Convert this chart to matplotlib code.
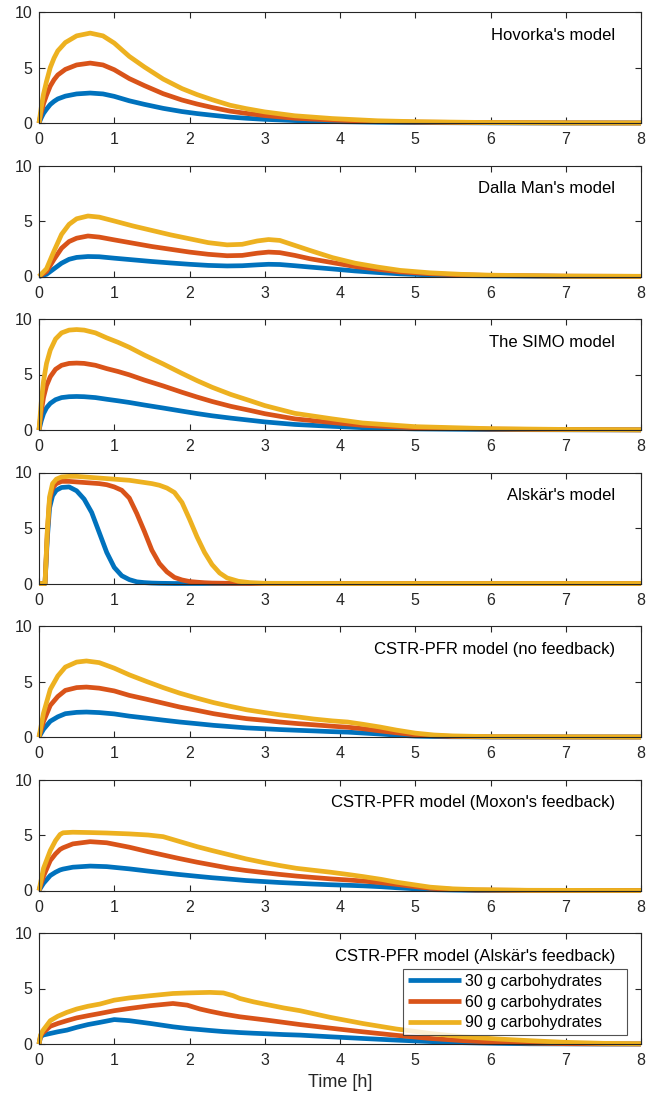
import matplotlib
matplotlib.use("Agg")
import matplotlib.pyplot as plt

plt.rcParams["font.family"] = ["Liberation Sans", "DejaVu Sans"]
plt.rcParams["font.size"] = 11.5

# ---- data ----
labels = ["30 g carbohydrates", "60 g carbohydrates", "90 g carbohydrates"]
colors = ["#0072BD", "#D95319", "#EDB120"]

hov_t = [0, 0.03, 0.06, 0.1, 0.15, 0.2, 0.25, 0.35, 0.5, 0.68, 0.85, 1.0, 1.2, 1.4, 1.65,
         1.9, 2.1, 2.3, 2.54, 2.75, 3.0, 3.4, 3.9, 4.5, 5.0, 6.0, 7.0, 8.0]
hov_30 = [0, 0.47, 0.87, 1.25, 1.67, 1.95, 2.17, 2.42, 2.62, 2.7, 2.62, 2.4, 2.0, 1.68, 1.32,
          1.03, 0.85, 0.7, 0.53, 0.43, 0.33, 0.22, 0.13, 0.07, 0.04, 0.01, 0, 0]
hov_60 = [0, 0.93, 1.73, 2.5, 3.33, 3.9, 4.33, 4.83, 5.23, 5.4, 5.23, 4.8, 4.0, 3.37, 2.64,
          2.07, 1.71, 1.4, 1.07, 0.87, 0.67, 0.43, 0.27, 0.13, 0.08, 0.03, 0.01, 0]
hov_90 = [0, 1.4, 2.6, 3.75, 5.0, 5.85, 6.5, 7.25, 7.85, 8.1, 7.85, 7.2, 6.0, 5.05, 3.96,
          3.1, 2.56, 2.1, 1.6, 1.3, 1.0, 0.65, 0.4, 0.2, 0.12, 0.04, 0.01, 0]

dm_t = [0, 0.1, 0.2, 0.3, 0.4, 0.5, 0.65, 0.8, 1.0, 1.25, 1.5, 1.75, 2.0, 2.25, 2.5, 2.7,
        2.9, 3.05, 3.2, 3.4, 3.6, 3.9, 4.2, 4.5, 4.8, 5.2, 5.6, 6.0, 7.0, 8.0]
dm_30 = [0, 0.2, 0.7, 1.2, 1.55, 1.72, 1.8, 1.78, 1.65, 1.5, 1.35, 1.22, 1.1, 1.0, 0.95, 0.97,
         1.05, 1.1, 1.08, 0.97, 0.85, 0.68, 0.5, 0.36, 0.24, 0.14, 0.08, 0.05, 0.01, 0]
dm_60 = [0, 0.45, 1.55, 2.55, 3.15, 3.45, 3.65, 3.55, 3.3, 3.0, 2.7, 2.45, 2.2, 2.0, 1.87, 1.9,
         2.1, 2.2, 2.15, 1.9, 1.6, 1.25, 0.9, 0.65, 0.42, 0.25, 0.15, 0.09, 0.03, 0.01]
dm_90 = [0, 0.7, 2.3, 3.8, 4.7, 5.2, 5.45, 5.35, 5.0, 4.55, 4.15, 3.75, 3.4, 3.05, 2.85, 2.9,
         3.2, 3.33, 3.25, 2.8, 2.35, 1.7, 1.2, 0.85, 0.55, 0.33, 0.2, 0.12, 0.04, 0.02]

simo_t = [0, 0.03, 0.06, 0.1, 0.15, 0.22, 0.3, 0.4, 0.5, 0.6, 0.75, 0.9, 1.05, 1.2, 1.4,
          1.65, 1.9, 2.1, 2.3, 2.55, 2.8, 3.0, 3.4, 3.9, 4.3, 5.0, 6.0, 7.0, 8.0]
simo_30 = [0, 0.83, 1.47, 2.0, 2.4, 2.73, 2.92, 3.0, 3.02, 3.0, 2.92, 2.77, 2.63, 2.48, 2.25,
           1.98, 1.7, 1.48, 1.28, 1.07, 0.88, 0.73, 0.5, 0.33, 0.21, 0.1, 0.04, 0.02, 0.01]
simo_60 = [0, 1.67, 2.93, 4.0, 4.8, 5.47, 5.83, 6.0, 6.03, 6.0, 5.83, 5.53, 5.27, 4.97, 4.5,
           3.97, 3.4, 2.97, 2.57, 2.13, 1.77, 1.47, 1.0, 0.67, 0.42, 0.2, 0.08, 0.03, 0.01]
simo_90 = [0, 2.5, 4.4, 6.0, 7.2, 8.2, 8.75, 9.0, 9.05, 9.0, 8.75, 8.3, 7.9, 7.45, 6.75,
           5.95, 5.1, 4.45, 3.85, 3.2, 2.65, 2.2, 1.5, 1.0, 0.63, 0.3, 0.12, 0.05, 0.02]

als_t = [0, 0.08, 0.11, 0.14, 0.18, 0.23, 0.3, 0.4, 0.5, 0.6, 0.7, 0.8, 0.9, 1.0, 1.1, 1.2,
         1.3, 1.4, 1.5, 1.6, 1.7, 1.8, 1.9, 2.0, 2.1, 2.2, 2.3, 2.4, 2.5, 2.65, 2.8, 3.0, 4.0, 8.0]
als_30 = [0, 0, 4.0, 6.8, 7.9, 8.4, 8.65, 8.7, 8.35, 7.6, 6.4, 4.6, 2.8, 1.45, 0.7, 0.35,
          0.15, 0.08, 0.04, 0.02, 0.01, 0, 0, 0, 0, 0, 0, 0, 0, 0, 0, 0, 0, 0]
als_60 = [0, 0, 4.5, 7.5, 8.6, 9.0, 9.2, 9.2, 9.15, 9.1, 9.05, 9.0, 8.9, 8.7, 8.4, 7.7,
          6.3, 4.7, 3.0, 1.8, 1.05, 0.55, 0.32, 0.18, 0.12, 0.07, 0.04, 0.03, 0.02, 0.01, 0, 0, 0, 0]
als_90 = [0, 0, 4.7, 7.8, 9.0, 9.4, 9.6, 9.65, 9.65, 9.6, 9.55, 9.5, 9.45, 9.4, 9.35, 9.3,
          9.2, 9.1, 9.0, 8.85, 8.6, 8.2, 7.3, 5.8, 4.2, 2.8, 1.7, 0.95, 0.5, 0.2, 0.08, 0.02, 0, 0]

cp_t = [0, 0.06, 0.15, 0.25, 0.35, 0.5, 0.63, 0.8, 1.0, 1.2, 1.43, 1.65, 1.87, 2.1, 2.32,
        2.55, 2.76, 3.0, 3.2, 3.45, 3.65, 3.9, 4.1, 4.3, 4.53, 4.75, 5.0, 5.25, 5.5, 6.0, 7.0, 8.0]
cp_30 = [0, 0.7, 1.42, 1.82, 2.1, 2.22, 2.25, 2.2, 2.08, 1.88, 1.7, 1.52, 1.35, 1.2, 1.05,
         0.93, 0.82, 0.74, 0.67, 0.6, 0.55, 0.48, 0.44, 0.36, 0.27, 0.17, 0.08, 0.04, 0.02, 0, 0, 0]
cp_60 = [0, 1.4, 2.85, 3.65, 4.2, 4.45, 4.5, 4.4, 4.15, 3.75, 3.4, 3.05, 2.7, 2.4, 2.1,
         1.85, 1.65, 1.5, 1.35, 1.2, 1.1, 0.97, 0.88, 0.75, 0.55, 0.38, 0.2, 0.1, 0.05, 0.01, 0, 0]
cp_90 = [0, 2.15, 4.3, 5.5, 6.3, 6.75, 6.85, 6.7, 6.2, 5.6, 5.0, 4.45, 3.95, 3.5, 3.1,
         2.75, 2.45, 2.2, 2.0, 1.8, 1.62, 1.45, 1.35, 1.15, 0.9, 0.62, 0.35, 0.18, 0.1, 0.03, 0.01, 0]

mox_t = [0, 0.06, 0.15, 0.22, 0.28, 0.32, 0.45, 0.68, 0.9, 1.2, 1.45, 1.65, 1.85, 2.1, 2.3,
         2.54, 2.75, 3.0, 3.2, 3.42, 3.65, 3.87, 4.1, 4.31, 4.55, 4.75, 5.0, 5.2, 5.5, 5.8, 6.5, 8.0]
mox_30 = [0, 0.65, 1.35, 1.65, 1.85, 1.93, 2.1, 2.2, 2.15, 1.95, 1.75, 1.6, 1.45, 1.28, 1.15,
          1.02, 0.9, 0.8, 0.72, 0.65, 0.58, 0.52, 0.47, 0.42, 0.34, 0.25, 0.15, 0.08, 0.04, 0.01, 0, 0]
mox_60 = [0, 1.3, 2.7, 3.3, 3.7, 3.85, 4.2, 4.4, 4.3, 3.9, 3.5, 3.2, 2.9, 2.55, 2.3,
          2.0, 1.8, 1.6, 1.45, 1.3, 1.17, 1.05, 0.95, 0.85, 0.7, 0.55, 0.35, 0.2, 0.1, 0.04, 0.01, 0]
mox_90 = [0, 2.0, 3.6, 4.5, 5.05, 5.2, 5.25, 5.22, 5.18, 5.1, 5.0, 4.85, 4.45, 3.95, 3.6,
          3.2, 2.85, 2.5, 2.25, 2.0, 1.82, 1.65, 1.45, 1.25, 1.0, 0.75, 0.5, 0.3, 0.15, 0.08, 0.02, 0]

af_t = [0, 0.02, 0.05, 0.15, 0.25, 0.37, 0.5, 0.65, 0.81, 1.0, 1.2, 1.48, 1.78, 1.97, 2.14,
        2.27, 2.45, 2.58, 2.67, 2.85, 3.03, 3.25, 3.47, 3.87, 4.3, 4.75, 5.2, 5.64, 6.1, 6.52,
        7.0, 7.5, 8.0]
af_30 = [0, 0.6, 0.8, 0.95, 1.1, 1.25, 1.5, 1.75, 1.95, 2.2, 2.1, 1.85, 1.55, 1.4, 1.3,
         1.22, 1.12, 1.07, 1.03, 0.97, 0.92, 0.85, 0.8, 0.65, 0.5, 0.35, 0.22, 0.12, 0.06, 0.02,
         0.01, 0, 0]
af_60 = [0, 0.7, 1.0, 1.6, 1.85, 2.1, 2.35, 2.55, 2.75, 3.0, 3.2, 3.45, 3.65, 3.5, 3.15,
         2.95, 2.7, 2.55, 2.45, 2.3, 2.15, 1.95, 1.75, 1.43, 1.1, 0.78, 0.5, 0.3, 0.15, 0.08,
         0.03, 0.01, 0]
af_90 = [0, 0.8, 1.2, 2.1, 2.5, 2.85, 3.15, 3.4, 3.6, 3.95, 4.15, 4.35, 4.55, 4.6, 4.63,
         4.65, 4.6, 4.35, 4.1, 3.8, 3.55, 3.25, 3.0, 2.4, 1.85, 1.35, 0.95, 0.65, 0.45, 0.3,
         0.15, 0.06, 0.02]

panels = [
    ("Hovorka's model", hov_t, [hov_30, hov_60, hov_90]),
    ("Dalla Man's model", dm_t, [dm_30, dm_60, dm_90]),
    ("The SIMO model", simo_t, [simo_30, simo_60, simo_90]),
    ("Alskär's model", als_t, [als_30, als_60, als_90]),
    ("CSTR-PFR model (no feedback)", cp_t, [cp_30, cp_60, cp_90]),
    ("CSTR-PFR model (Moxon's feedback)", mox_t, [mox_30, mox_60, mox_90]),
    ("CSTR-PFR model (Alskär's feedback)", af_t, [af_30, af_60, af_90]),
]

# ---- layout (pixel geometry of the reference) ----
W, H = 659, 1095
fig = plt.figure(figsize=(W / 100, H / 100), dpi=100)
ax_left, ax_w = 39, 602
ax_top0, ax_h, step = 12, 111, 153.5
axis_col = "#262626"

for i, (title, t, series) in enumerate(panels):
    top = ax_top0 + step * i
    ax = fig.add_axes([ax_left / W, 1 - (top + ax_h) / H, ax_w / W, ax_h / H])
    for vals, col, lab in zip(series, colors, labels):
        ax.plot(t, vals, color=col, lw=3.4, label=lab, clip_on=False,
                solid_capstyle="butt")
    ax.set_xlim(0, 8)
    ax.set_ylim(0, 10)
    ax.set_xticks(range(0, 9))
    ax.set_yticks([0, 5, 10])
    ax.tick_params(direction="in", length=4, width=0.8, top=True, right=True,
                   colors=axis_col, labelsize=11.5)
    ax.tick_params(axis="x", pad=6.5)
    ax.tick_params(axis="y", pad=5)
    for s in ax.spines.values():
        s.set_color(axis_col)
        s.set_linewidth(0.8)
    ax.text(0.957, 0.79, title, transform=ax.transAxes, ha="right", va="center",
            fontsize=12, color="black")
    if i == len(panels) - 1:
        ax.set_xlabel("Time [h]", fontsize=13, color=axis_col, labelpad=4)
        leg = ax.legend(loc="lower left", bbox_to_anchor=(364 / 602, 9 / 110, 224 / 602, 0.3),
                        mode="expand", frameon=True, fancybox=False, handlelength=3.3,
                        handletextpad=0.3, labelspacing=0.35, borderpad=0.3,
                        borderaxespad=0, fontsize=11.5)
        leg.get_frame().set_edgecolor(axis_col)
        leg.get_frame().set_linewidth(0.8)

fig.savefig("out.png", dpi=100)
